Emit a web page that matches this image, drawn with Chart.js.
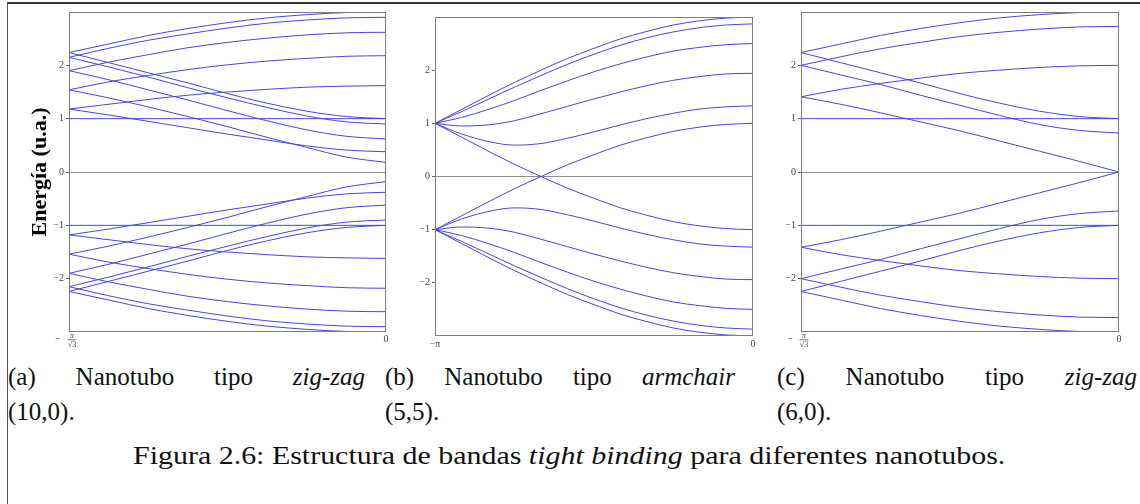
<!DOCTYPE html>
<html>
<head>
<meta charset="utf-8">
<script src="https://cdn.jsdelivr.net/npm/chart.js@4.4.1/dist/chart.umd.min.js"></script>
<style>
  html, body { margin: 0; padding: 0; background: #fff; }
  #fig { position: relative; width: 1140px; height: 504px; overflow: hidden; background: #fff; }
  #box { position: absolute; left: 7px; top: 2px; width: 1200px; height: 600px;
         border-top: 2px solid #333; border-left: 1.5px solid #555; }
  canvas { position: absolute; top: 0; }
  .cap { position: absolute; font-family: 'Liberation Serif', 'Times New Roman', serif;
         font-size: 25px; line-height: 25px; color: #111; white-space: nowrap; }
  .just { display: flex; justify-content: space-between; }
</style>
</head>
<body>
<div id="fig">
  <div id="box"></div>
  <canvas id="chartA" width="400" height="360" style="left:0px"></canvas>
  <canvas id="chartB" width="370" height="360" style="left:400px"></canvas>
  <canvas id="chartC" width="370" height="360" style="left:770px"></canvas>

  <div class="cap just" style="left:8px; top:364px; width:357px;"><span>(a)</span><span>Nanotubo</span><span>tipo</span><i>zig-zag</i></div>
  <div class="cap" style="left:8px; top:399px;">(10,0).</div>
  <div class="cap just" style="left:385px; top:364px; width:350px;"><span>(b)</span><span>Nanotubo</span><span>tipo</span><i>armchair</i></div>
  <div class="cap" style="left:385px; top:399px;">(5,5).</div>
  <div class="cap just" style="left:777px; top:364px; width:360px;"><span>(c)</span><span>Nanotubo</span><span>tipo</span><i>zig-zag</i></div>
  <div class="cap" style="left:777px; top:399px;">(6,0).</div>
  <div class="cap" id="figcap" style="left:569px; top:443px;">Figura 2.6: Estructura de bandas <i>tight binding</i> para diferentes nanotubos.</div>
</div>

<script>
// Wave-vector samples (x axis) for the zig-zag panels, from -pi/sqrt(3) to 0
const kZigzag = [-1.8138, -1.5871, -1.3604, -1.1336, -0.9069, -0.6802, -0.4534, -0.2267, 0];
// Wave-vector samples for the armchair panel, from -pi to 0
const kArmchair = [-3.1416, -2.8798, -2.6180, -2.3562, -2.0944, -1.8326, -1.5708, -1.3090, -1.0472, -0.7854, -0.5236, -0.2618, 0];

// (a) zig-zag (10,0): conduction bands
const upperA = [
  [2.24, 2.40, 2.56, 2.69, 2.80, 2.89, 2.95, 2.99, 3.00],
  [2.24, 2.05, 1.86, 1.67, 1.47, 1.29, 1.14, 1.04, 1.00],
  [2.15, 2.32, 2.47, 2.59, 2.70, 2.79, 2.85, 2.89, 2.90],
  [2.15, 1.97, 1.78, 1.58, 1.39, 1.21, 1.05, 0.94, 0.90],
  [1.90, 2.06, 2.20, 2.33, 2.43, 2.51, 2.57, 2.61, 2.62],
  [1.90, 1.73, 1.54, 1.35, 1.15, 0.96, 0.79, 0.67, 0.62],
  [1.54, 1.69, 1.81, 1.92, 2.01, 2.08, 2.13, 2.17, 2.18],
  [1.54, 1.39, 1.22, 1.04, 0.85, 0.65, 0.46, 0.28, 0.18],
  [1.18, 1.27, 1.36, 1.44, 1.50, 1.55, 1.59, 1.61, 1.62],
  [1.18, 1.07, 0.95, 0.83, 0.71, 0.60, 0.49, 0.41, 0.38],
  [1.00, 1.00, 1.00, 1.00, 1.00, 1.00, 1.00, 1.00, 1.00]
];
// (a) zig-zag (10,0): valence bands
const lowerA = [
  [-2.24, -2.40, -2.56, -2.69, -2.80, -2.89, -2.95, -2.99, -3.00],
  [-2.24, -2.05, -1.86, -1.67, -1.47, -1.29, -1.14, -1.04, -1.00],
  [-2.15, -2.32, -2.47, -2.59, -2.70, -2.79, -2.85, -2.89, -2.90],
  [-2.15, -1.97, -1.78, -1.58, -1.39, -1.21, -1.05, -0.94, -0.90],
  [-1.90, -2.06, -2.20, -2.33, -2.43, -2.51, -2.57, -2.61, -2.62],
  [-1.90, -1.73, -1.54, -1.35, -1.15, -0.96, -0.79, -0.67, -0.62],
  [-1.54, -1.69, -1.81, -1.92, -2.01, -2.08, -2.13, -2.17, -2.18],
  [-1.54, -1.39, -1.22, -1.04, -0.85, -0.65, -0.46, -0.28, -0.18],
  [-1.18, -1.27, -1.36, -1.44, -1.50, -1.55, -1.59, -1.61, -1.62],
  [-1.18, -1.07, -0.95, -0.83, -0.71, -0.60, -0.49, -0.41, -0.38],
  [-1.00, -1.00, -1.00, -1.00, -1.00, -1.00, -1.00, -1.00, -1.00]
];

// (b) armchair (5,5): conduction bands
const upperB = [
  [1.00, 1.26, 1.52, 1.77, 2.00, 2.22, 2.41, 2.59, 2.73, 2.85, 2.93, 2.98, 3.00],
  [1.00, 1.22, 1.45, 1.68, 1.90, 2.11, 2.30, 2.47, 2.61, 2.72, 2.80, 2.85, 2.87],
  [1.00, 1.11, 1.26, 1.43, 1.62, 1.80, 1.97, 2.12, 2.25, 2.36, 2.43, 2.48, 2.50],
  [1.00, 0.95, 0.97, 1.05, 1.18, 1.32, 1.46, 1.59, 1.71, 1.81, 1.88, 1.93, 1.94],
  [1.00, 0.80, 0.66, 0.59, 0.62, 0.72, 0.84, 0.97, 1.09, 1.19, 1.27, 1.31, 1.33]
];
// (b) armchair (5,5): valence bands
const lowerB = [
  [-1.00, -1.26, -1.52, -1.77, -2.00, -2.22, -2.41, -2.59, -2.73, -2.85, -2.93, -2.98, -3.00],
  [-1.00, -1.22, -1.45, -1.68, -1.90, -2.11, -2.30, -2.47, -2.61, -2.72, -2.80, -2.85, -2.87],
  [-1.00, -1.11, -1.26, -1.43, -1.62, -1.80, -1.97, -2.12, -2.25, -2.36, -2.43, -2.48, -2.50],
  [-1.00, -0.95, -0.97, -1.05, -1.18, -1.32, -1.46, -1.59, -1.71, -1.81, -1.88, -1.93, -1.94],
  [-1.00, -0.80, -0.66, -0.59, -0.62, -0.72, -0.84, -0.97, -1.09, -1.19, -1.27, -1.31, -1.33]
];
// (b) the two metallic bands crossing at E = 0
const crossB = [
  [1.00, 0.74, 0.48, 0.23, 0.00, -0.22, -0.41, -0.59, -0.73, -0.85, -0.93, -0.98, -1.00],
  [-1.00, -0.74, -0.48, -0.23, 0.00, 0.22, 0.41, 0.59, 0.73, 0.85, 0.93, 0.98, 1.00]
];

// (c) zig-zag (6,0): conduction bands
const upperC = [
  [2.24, 2.40, 2.56, 2.69, 2.80, 2.89, 2.95, 2.99, 3.00],
  [2.24, 2.05, 1.86, 1.67, 1.47, 1.29, 1.14, 1.04, 1.00],
  [2.00, 2.16, 2.31, 2.43, 2.54, 2.62, 2.68, 2.72, 2.73],
  [2.00, 1.82, 1.64, 1.44, 1.25, 1.06, 0.89, 0.78, 0.73],
  [1.41, 1.55, 1.66, 1.76, 1.85, 1.91, 1.96, 1.99, 2.00],
  [1.41, 1.27, 1.11, 0.94, 0.77, 0.58, 0.39, 0.20, 0.00],
  [1.00, 1.00, 1.00, 1.00, 1.00, 1.00, 1.00, 1.00, 1.00]
];
// (c) zig-zag (6,0): valence bands
const lowerC = [
  [-2.24, -2.40, -2.56, -2.69, -2.80, -2.89, -2.95, -2.99, -3.00],
  [-2.24, -2.05, -1.86, -1.67, -1.47, -1.29, -1.14, -1.04, -1.00],
  [-2.00, -2.16, -2.31, -2.43, -2.54, -2.62, -2.68, -2.72, -2.73],
  [-2.00, -1.82, -1.64, -1.44, -1.25, -1.06, -0.89, -0.78, -0.73],
  [-1.41, -1.55, -1.66, -1.76, -1.85, -1.91, -1.96, -1.99, -2.00],
  [-1.41, -1.27, -1.11, -0.94, -0.77, -0.58, -0.39, -0.20, 0.00],
  [-1.00, -1.00, -1.00, -1.00, -1.00, -1.00, -1.00, -1.00, -1.00]
];

// Energy ticks shown on every panel
const energyTicks = [-2, -1, 0, 1, 2];

const BAND_COLOR = 'rgb(70,70,222)';
const TICK_FONT = { family: "'Liberation Serif', 'Times New Roman', serif", size: 10 };
const TICK_COLOR = '#444';
const FRAME_COLOR = '#7c7c7c';

function bandDatasets(k, bands) {
  return bands.map(b => ({
    data: k.map((x, i) => ({ x: x, y: b[i] })),
    borderColor: BAND_COLOR,
    borderWidth: 1,
    pointRadius: 0,
    fill: false,
    cubicInterpolationMode: 'monotone'
  }));
}

function minusText(v) {
  return v < 0 ? '\u2212' + Math.abs(v) : String(v);
}

// Gray frame around the plotting region
const framePlugin = {
  id: 'frame',
  afterDraw(chart) {
    const { ctx, chartArea: a } = chart;
    ctx.save();
    ctx.strokeStyle = FRAME_COLOR;
    ctx.lineWidth = 1;
    ctx.strokeRect(Math.round(a.left) + 0.5, Math.round(a.top) + 0.5,
                   Math.round(a.right - a.left) - 1, Math.round(a.bottom - a.top) - 1);
    ctx.restore();
  }
};

// Stacked fraction label  −π/√3  under the left end of the k axis
const fractionPlugin = {
  id: 'fraction',
  afterDraw(chart, args, opts) {
    if (!opts || !opts.show) return;
    const { ctx } = chart;
    const xs = chart.scales.x;
    const px = xs.getPixelForValue(xs.min);
    const b = chart.chartArea.bottom;
    ctx.save();
    ctx.fillStyle = TICK_COLOR;
    ctx.textAlign = 'center';
    ctx.textBaseline = 'middle';
    ctx.font = "10px 'Liberation Serif', serif";
    ctx.fillText('\u2212', px - 11, b + 7);
    ctx.font = "italic 8px 'Liberation Serif', serif";
    ctx.fillText('\u03c0', px + 3, b + 3.5);
    ctx.fillRect(px - 1.5, b + 7.5, 9, 0.7);
    ctx.font = "8px 'Liberation Serif', serif";
    ctx.fillText('\u221a3', px + 3, b + 12.5);
    ctx.restore();
  }
};

function makeChart(id, k, bands, cfg) {
  const kMin = k[0];
  return new Chart(document.getElementById(id), {
    type: 'line',
    data: { datasets: bandDatasets(k, bands) },
    plugins: [framePlugin, fractionPlugin],
    options: {
      responsive: false,
      animation: false,
      devicePixelRatio: 1,
      layout: { padding: { top: cfg.padTop, right: cfg.padRight, left: 0, bottom: 0 } },
      plugins: {
        legend: { display: false },
        tooltip: { enabled: false },
        fraction: { show: cfg.fraction }
      },
      scales: {
        x: {
          type: 'linear',
          min: kMin,
          max: 0,
          afterBuildTicks: s => { s.ticks = [{ value: kMin }, { value: 0 }]; },
          afterFit: s => { s.height = cfg.xHeight; s.paddingLeft = 0; s.paddingRight = 0; },
          ticks: {
            autoSkip: false, maxRotation: 0, padding: cfg.xPad,
            font: TICK_FONT, color: TICK_COLOR,
            callback: v => (v === 0 ? '0' : cfg.minLabel)
          },
          grid: { display: false, drawTicks: false, tickLength: 0 },
          border: { display: false }
        },
        y: {
          type: 'linear',
          min: -3,
          max: 3,
          afterBuildTicks: s => { s.ticks = energyTicks.map(v => ({ value: v })); },
          afterFit: s => { s.width = cfg.yWidth; s.paddingTop = 0; s.paddingBottom = 0; },
          ticks: {
            autoSkip: false, padding: 2,
            font: TICK_FONT, color: TICK_COLOR,
            callback: v => minusText(v)
          },
          grid: {
            drawOnChartArea: true,
            color: c => (c.tick && c.tick.value === 0 ? '#8f8f8f' : 'rgba(0,0,0,0)'),
            tickColor: '#666',
            tickLength: 3,
            lineWidth: 1
          },
          border: { display: false },
          title: cfg.title ? {
            display: true,
            text: cfg.title,
            color: '#000',
            font: { family: "'Liberation Serif', 'Times New Roman', serif", size: 22, weight: 'bold' },
            padding: { top: 27, bottom: 0 }
          } : { display: false }
        }
      }
    }
  });
}

makeChart('chartA', kZigzag, upperA.concat(lowerA), {
  padTop: 12, padRight: 14, yWidth: 69, xHeight: 28, xPad: 1,
  minLabel: '', fraction: true, title: 'Energía (u.a.)'
});
makeChart('chartB', kArmchair, upperB.concat(lowerB, crossB), {
  padTop: 17, padRight: 17, yWidth: 35, xHeight: 24, xPad: 2,
  minLabel: '\u2212\u03c0', fraction: false, title: null
});
makeChart('chartC', kZigzag, upperC.concat(lowerC), {
  padTop: 12, padRight: 21, yWidth: 31, xHeight: 28, xPad: 1,
  minLabel: '', fraction: true, title: null
});

// Stretch the figure caption to its line width and centre it
(function () {
  const cap = document.getElementById('figcap');
  const w = cap.offsetWidth;
  const target = 872;
  cap.style.transformOrigin = '0 0';
  cap.style.left = (569 - target / 2) + 'px';
  cap.style.transform = 'scaleX(' + (target / w).toFixed(4) + ')';
})();
</script>
</body>
</html>
